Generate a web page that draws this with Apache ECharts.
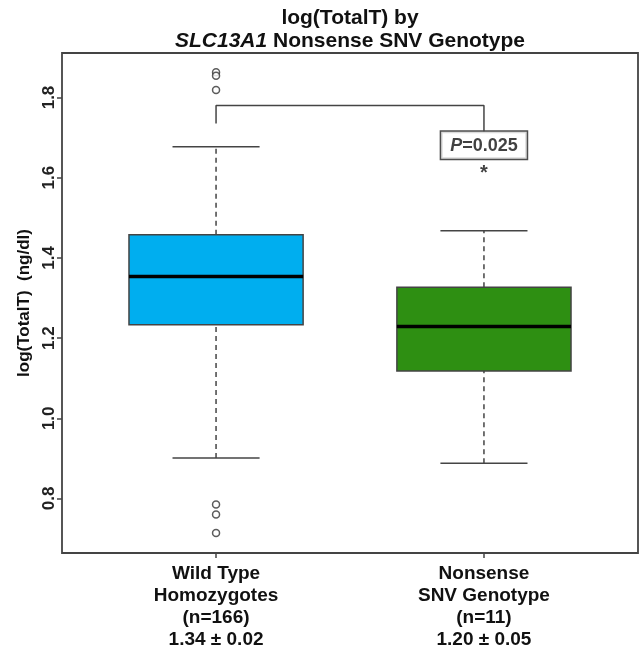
<!DOCTYPE html>
<html>
<head>
<meta charset="utf-8">
<script src="https://cdn.jsdelivr.net/npm/echarts@6/dist/echarts.min.js"></script>
<style>
  html, body { margin: 0; padding: 0; background: #fff; }
  #chart { width: 640px; height: 652px; }
</style>
</head>
<body>
<div id="chart"></div>
<script>
var groupNames = ['Wild Type\nHomozygotes', 'Nonsense\nSNV Genotype'];
var groupN = [166, 11];
var groupMeans = ['1.34 \u00b1 0.02', '1.20 \u00b1 0.05'];
// [min, Q1, median, Q3, max]
var boxStats = [
    [0.901, 1.2335, 1.3535, 1.458, 1.677],
    [0.888, 1.118, 1.229, 1.327, 1.468]
];
var outliers = [
    [1, 1.863], [1, 1.854], [1, 1.819],
    [1, 0.785], [1, 0.760], [1, 0.714]
];
var bracket = [[1, 1.735], [1, 1.78], [2, 1.78], [2, 1.716]];
var pLabelPos = [2, 1.681];
var starPos = [2, 1.617];
var yTicks = [0.8, 1.0, 1.2, 1.4, 1.6, 1.8];

var boxColors = ['#00aeef', '#2e8f12'];
var boxWidth = 0.65;
var font = 'Liberation Sans';

var chart = echarts.init(document.getElementById('chart'));

var boxData = boxStats.map(function (s, i) {
    return [i + 1].concat(s);
});

option = {
    animation: false,
    title: {
        text: '{a|log(TotalT) by}\n{i|SLC13A1}{a| Nonsense SNV Genotype}',
        left: 345,
        top: 2,
        textAlign: 'center',
        textStyle: {
            rich: {
                a: { fontFamily: font, fontWeight: 'bold', fontSize: 21, color: '#111', lineHeight: 23 },
                i: { fontFamily: font, fontWeight: 'bold', fontStyle: 'italic', fontSize: 21, color: '#111', lineHeight: 23 }
            }
        }
    },
    grid: {
        left: 62, right: 2, top: 53, bottom: 99,
        show: true,
        borderColor: '#444',
        borderWidth: 1.8,
        backgroundColor: '#fff'
    },
    xAxis: {
        type: 'value',
        min: 0.425,
        max: 2.575,
        splitLine: { show: false },
        axisLine: { show: false },
        axisTick: {
            show: true,
            customValues: [1, 2],
            length: 5,
            lineStyle: { color: '#444', width: 1.5 }
        },
        axisLabel: {
            customValues: [1, 2],
            margin: 10,
            fontFamily: font,
            fontWeight: 'bold',
            fontSize: 19,
            lineHeight: 22,
            color: '#111',
            formatter: function (v) {
                var i = Math.round(v) - 1;
                return groupNames[i] + '\n(n=' + groupN[i] + ')\n' + groupMeans[i];
            }
        }
    },
    yAxis: {
        type: 'value',
        min: 0.664,
        max: 1.911,
        name: 'log(TotalT)  (ng/dl)',
        nameLocation: 'middle',
        nameGap: 27,
        nameTextStyle: { fontFamily: font, fontWeight: 'bold', fontSize: 17, color: '#111' },
        splitLine: { show: false },
        axisLine: { show: false },
        axisTick: {
            show: true,
            customValues: yTicks,
            length: 5,
            lineStyle: { color: '#444', width: 1.5 }
        },
        axisLabel: {
            customValues: yTicks,
            rotate: 90,
            margin: 4,
            fontFamily: font,
            fontWeight: 'bold',
            fontSize: 17,
            color: '#222',
            formatter: function (v) { return v.toFixed(1); }
        }
    },
    series: [
        {
            type: 'custom',
            data: boxData,
            encode: { x: 0, y: [1, 2, 3, 4, 5] },
            renderItem: function (params, api) {
                var x = api.value(0);
                var lo = api.coord([x, api.value(1)]);
                var q1 = api.coord([x, api.value(2)]);
                var md = api.coord([x, api.value(3)]);
                var q3 = api.coord([x, api.value(4)]);
                var hi = api.coord([x, api.value(5)]);
                var half = api.size([boxWidth, 0])[0] / 2;
                var cap = half / 2;
                var cx = lo[0];
                var edge = { stroke: '#444', lineWidth: 1.5 };
                var dash = { stroke: '#444', lineWidth: 1.5, lineDash: [5, 4] };
                return {
                    type: 'group',
                    children: [
                        { type: 'line', shape: { x1: cx, y1: lo[1], x2: cx, y2: q1[1] }, style: dash },
                        { type: 'line', shape: { x1: cx, y1: q3[1], x2: cx, y2: hi[1] }, style: dash },
                        { type: 'line', shape: { x1: cx - cap, y1: lo[1], x2: cx + cap, y2: lo[1] }, style: edge },
                        { type: 'line', shape: { x1: cx - cap, y1: hi[1], x2: cx + cap, y2: hi[1] }, style: edge },
                        {
                            type: 'rect',
                            shape: { x: cx - half, y: q3[1], width: half * 2, height: q1[1] - q3[1] },
                            style: { fill: boxColors[params.dataIndex], stroke: '#444', lineWidth: 1.5 }
                        },
                        { type: 'line', shape: { x1: cx - half, y1: md[1], x2: cx + half, y2: md[1] }, style: { stroke: '#000', lineWidth: 3.5 } }
                    ]
                };
            }
        },
        {
            type: 'scatter',
            data: outliers,
            symbol: 'circle',
            symbolSize: 7,
            itemStyle: { color: '#fff', borderColor: '#333', borderWidth: 1.5 }
        },
        {
            type: 'line',
            data: bracket,
            symbol: 'none',
            lineStyle: { color: '#444', width: 1.5 }
        },
        {
            type: 'scatter',
            symbolSize: 0,
            data: [
                {
                    value: pLabelPos,
                    label: {
                        show: true,
                        position: 'inside',
                        formatter: '{i|P}{b|=0.025}',
                        backgroundColor: '#fff',
                        borderColor: '#222',
                        borderWidth: 1.5,
                        padding: [5, 9, 4, 9],
                        rich: {
                            i: { fontFamily: font, fontWeight: 'bold', fontStyle: 'italic', fontSize: 18, color: '#111' },
                            b: { fontFamily: font, fontWeight: 'bold', fontSize: 18, color: '#111' }
                        }
                    }
                },
                {
                    value: starPos,
                    label: {
                        show: true,
                        position: 'inside',
                        formatter: '*',
                        offset: [0, 3],
                        fontFamily: font,
                        fontWeight: 'bold',
                        fontSize: 20,
                        color: '#111'
                    }
                }
            ]
        }
    ]
};

chart.setOption(option);
</script>
</body>
</html>
